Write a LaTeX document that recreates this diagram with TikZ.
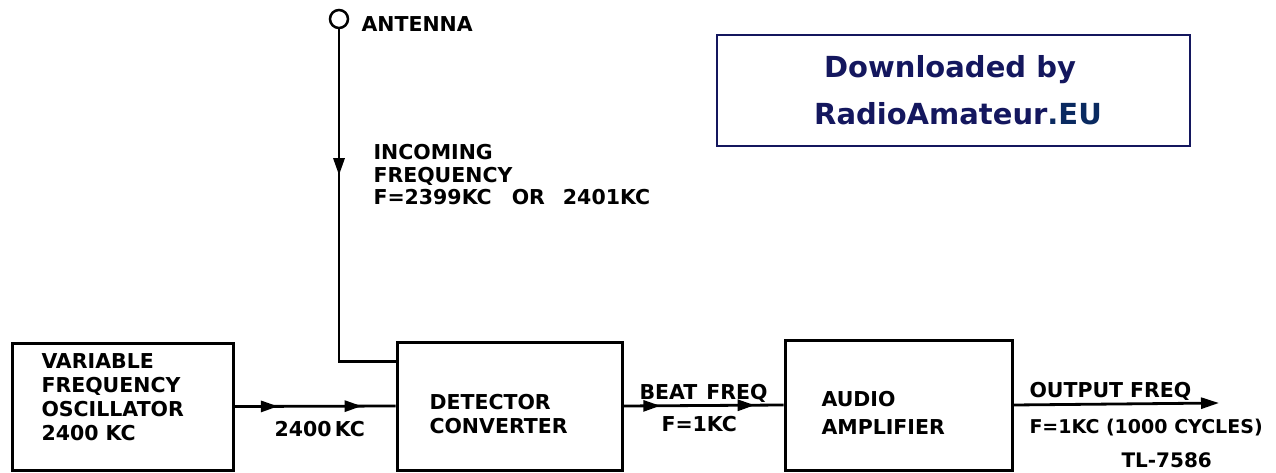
\documentclass[tikz,border=0pt]{standalone}
\usepackage{fontspec}
\setmainfont{DejaVu Sans}
\newfontfamily\lett{DejaVu Sans Bold}
\newfontfamily\wmfont{DejaVu Sans Bold}
\usetikzlibrary{arrows.meta,decorations.markings}
\definecolor{navy}{HTML}{14175E}
\definecolor{navyb}{HTML}{0A2A60}
\begin{document}
\begin{tikzpicture}[x=1pt,y=-1pt,
  line width=3pt,
  blk/.style={draw, inner sep=0pt, line width=3pt},
  lbl/.style={inner sep=0pt, anchor=north west, align=left, font=\lett\fontsize{20.5}{24}\selectfont},
  wire/.style={line width=2.8pt},
  twoarrows/.style 2 args={postaction={decorate}, decoration={markings,
     mark=at position #1 with {\arrow{Triangle[length=17pt,width=11pt]}},
     mark=at position #2 with {\arrow{Triangle[length=17pt,width=11pt]}}}},
  onearrow/.style={postaction={decorate}, decoration={markings,
     mark=at position #1 with {\arrow{Triangle[length=17pt,width=11pt]}}}}
]
\useasboundingbox (0,0) rectangle (1276,473);

% blocks
\node[blk, minimum width=221pt, minimum height=127pt] (vfo) at (122.5,406.5) {};
\node[blk, minimum width=225pt, minimum height=128pt] (det) at (509.5,406) {};
\node[blk, minimum width=227pt, minimum height=130pt] (amp) at (898.5,405) {};

% block texts
\node[lbl] (vfot) at (40,352) {VARIABLE\\FREQUENCY\\OSCILLATOR\\2400 KC};
\node[lbl] (dett) at (428,393) {DETECTOR\\CONVERTER};
\node[lbl] (ampt) at (820,390) {AUDIO\\[4pt]AMPLIFIER};

% antenna
\node[circle, draw, line width=2.5pt, minimum size=18pt, inner sep=0pt] (ant) at (339,19) {};
\node[lbl] (antt) at (360,15) {ANTENNA};
\coordinate (antin) at ([yshift=-21pt]det.north west);
\draw[wire, onearrow=146pt] (ant.south) |- (antin);
\node[lbl] (inct) at (372,143) {INCOMING\\[-1.5pt]FREQUENCY\\[-2pt]F=2399KC\hspace{20pt}OR\hspace{18pt}2401KC};

% VFO -> detector
\draw[wire, twoarrows={0.27}{0.79}] (vfo.east) -- (det.west);
\node[lbl] (f2400) at (273,420) {2400\,KC};

% detector -> amplifier
\draw[wire, twoarrows={0.23}{0.82}] (det.east) -- (amp.west);
\node[lbl] (beat) at (638,383) {BEAT\hspace{9pt}FREQ};
\node[lbl] (f1) at (660,415) {F=1KC};

% output
\coordinate (out) at (1219,403);
\draw[wire, -{Triangle[length=18pt,width=11pt]}] (amp.east) -- (out);
\node[lbl] (outt) at (1028,381) {OUTPUT\hspace{7pt}FREQ};
\node[lbl, font=\lett\fontsize{19}{22}\selectfont] (outf) at (1028,418) {F=1KC (1000 CYCLES)};
\node[lbl, font=\lett\fontsize{20}{22}\selectfont] (tl) at (1120,451) {TL-7586};

% watermark
\node[draw=navy, line width=2.5pt, minimum width=473pt, minimum height=111pt, inner sep=0pt] (wm) at (953.5,90.5) {};
\node[inner sep=0pt, anchor=north, font=\wmfont\fontsize{29}{30}\selectfont, text=navy] (wm1) at (950,54) {Downloaded by};
\node[inner sep=0pt, anchor=north, font=\wmfont\fontsize{29}{30}\selectfont, text=navy] (wm2) at (958,101) {RadioAmateur\textcolor{navyb}{.EU}};
\end{tikzpicture}
\end{document}
